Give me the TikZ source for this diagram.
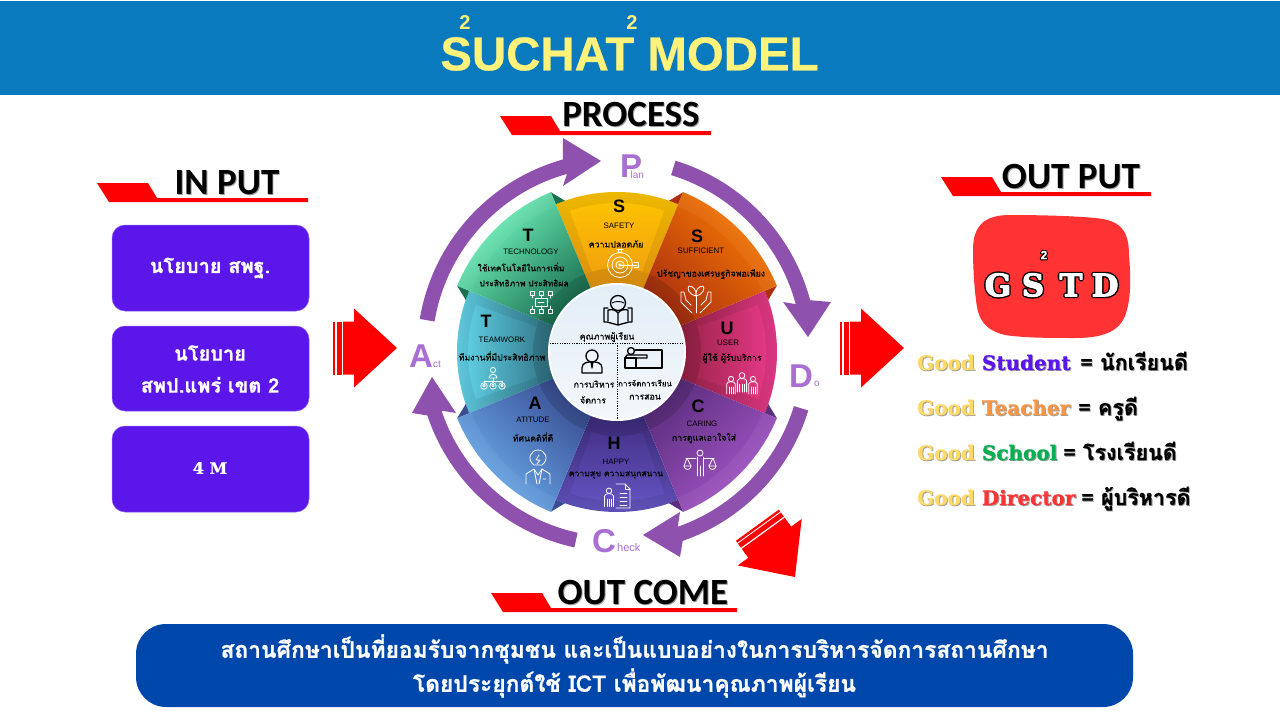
\documentclass[tikz,border=0pt]{standalone}
\usepackage{fontspec}
\setmainfont{Liberation Sans}
\newfontfamily\thf[Script=Thai,FakeBold=0.15]{Loma}
\newfontfamily\thb[Script=Thai,BoldFeatures={FakeBold=0.8}]{Loma}
\newfontfamily\crl{Carlito}
\newfontfamily\srf[BoldFeatures={FakeBold=0.6}]{DejaVu Serif}
\newfontfamily\srg{DejaVu Serif}
\newfontfamily\ttlf[BoldFeatures={FakeBold=0.5}]{Liberation Sans}
\usetikzlibrary{calc}
\definecolor{hdr}{HTML}{0A7ABF}
\definecolor{boxv}{HTML}{5B17E9}
\definecolor{ring}{HTML}{8E52AE}
\definecolor{lett}{HTML}{A96FD2}
\definecolor{ttl}{HTML}{FFF27A}
\definecolor{gold}{HTML}{FFD966}
\definecolor{bluebox}{HTML}{0047AB}
\definecolor{redbox}{HTML}{FF3333}
\definecolor{safeO}{HTML}{FFC800}\definecolor{safeI}{HTML}{F09A10}
\definecolor{suffO}{HTML}{FA7E00}\definecolor{suffI}{HTML}{AC3010}
\definecolor{userO}{HTML}{F03C90}\definecolor{userI}{HTML}{962244}
\definecolor{careO}{HTML}{A858CC}\definecolor{careI}{HTML}{5C2E7E}
\definecolor{happO}{HTML}{6858C8}\definecolor{happI}{HTML}{3F2D80}
\definecolor{attiO}{HTML}{6CB2F0}\definecolor{attiI}{HTML}{3A4E94}
\definecolor{teamO}{HTML}{66DCF0}\definecolor{teamI}{HTML}{2E6E80}
\definecolor{techO}{HTML}{78FCC4}\definecolor{techI}{HTML}{1A7050}
\definecolor{hubT}{HTML}{E3EEF7}\definecolor{hubB}{HTML}{F3F7FB}
\tikzset{
 redtag/.style={fill=red,draw=none},
 heading/.style={font=\crl\bfseries\fontsize{37}{37}\selectfont,text=black,inner sep=0},
 violetbox/.style={fill=boxv,draw=boxv!70!white,line width=.5pt,rounded corners=13pt},
 boxtext/.style={font=\thb\bfseries\fontsize{20}{32}\selectfont,text=white,align=center,inner sep=0},
 ringarrow/.style={fill=ring,draw=none},
 letterB/.style={font=\bfseries\fontsize{33}{33}\selectfont,text=lett,inner sep=0},
 letterS/.style={font=\fontsize{10}{10}\selectfont,text=lett,inner sep=0},
 bigl/.style={font=\bfseries\fontsize{18}{18}\selectfont,text=black,inner sep=0},
 engl/.style={font=\fontsize{7.9}{7.9}\selectfont,text=black,inner sep=0},
 thl/.style={font=\thf\fontsize{8.8}{8.8}\selectfont,text=black,inner sep=0},
 icon/.style={draw=white,line width=.8pt,fill=none,line join=round,line cap=round},
 iconb/.style={draw=black,line width=1.3pt,fill=none,line join=round,line cap=round},
 goodl/.style={anchor=base west,inner sep=0,font=\srf\bfseries\fontsize{20}{21}\selectfont},
 goodt/.style={anchor=base west,inner sep=0,font=\thb\bfseries\fontsize{21.5}{24}\selectfont},
}
\newcommand\sector[5]{%
 \pgfmathsetmacro\midang{(#1+#2)/2-90}%
 \shade[top color=#4,bottom color=#5,shading angle=\midang]
  (#1:67) -- (#1:#3) arc[start angle=#1,end angle=#2,radius=#3] -- (#2:67) arc[start angle=#2,end angle=#1,radius=67] -- cycle;
 \fill[black,opacity=.12] (#1:67) arc[start angle=#1,end angle=#2,radius=67] -- (#2:84) arc[start angle=#2,end angle=#1,radius=84] -- cycle;
}
\newcommand\stripes[3]{%
 \fill[black,opacity=.07,even odd rule]
  (#1:84) -- (#1:#3) arc[start angle=#1,end angle=#2,radius=#3] -- (#2:84) arc[start angle=#2,end angle=#1,radius=84] -- cycle
  ({#1+5}:84) -- ({#1+4}:149) arc[start angle={#1+4},end angle={#2-4},radius=149] -- ({#2-5}:84) arc[start angle={#2-5},end angle={#1+5},radius=84] -- cycle;
}
\newcommand\widerim[2]{%
 \fill[white,opacity=.05] (#1:158) arc[start angle=#1,end angle=#2,radius=158] -- (#2:173) arc[start angle=#2,end angle=#1,radius=173] -- cycle;
}
\newcommand\fold[3]{\fill[#3] (#1:173) -- (#1:160) -- ({#1+#2}:160) -- cycle;}
\newcommand\person[3]{%
 \begin{scope}[shift={(#1,#2)},scale=#3]
 \draw[icon] (0,5) circle (2.6);
 \draw[icon] (-4.2,-10) -- (-4.2,0) .. controls (-4.2,2) and (-2,2.2) .. (0,2.2) .. controls (2,2.2) and (4.2,2) .. (4.2,0) -- (4.2,-10);
 \draw[icon] (-2,-10) -- (-2,-3) (2,-10) -- (2,-3) (0,-10) -- (0,-3);
 \end{scope}}
\newcommand\redarrow{%
 \fill[red] (0,0) -- (-43,39.5) -- (-43,26.5) -- (-54,26.5) -- (-54,-26.5) -- (-43,-26.5) -- (-43,-39.5) -- cycle;
 \fill[red] (-60.5,26.5) rectangle (-55.5,-26.5);
 \fill[red] (-64,26.5) rectangle (-61.7,-26.5);
}
% outlined letters: a wide black stroke, then a bold white glyph on it
\newcommand\outl[3]{\leavevmode\rlap{\special{pdf:code q 2 Tr #1 w 1 j 0 0 0 RG 0 0 0 rg}#3\special{pdf:code Q}}\special{pdf:code q 2 Tr #2 w 1 j 1 1 1 RG 1 1 1 rg}#3\special{pdf:code Q}}
\newcommand\shd[2]{\leavevmode\rlap{\kern.9pt\raisebox{-.9pt}{\textcolor{black!38}{#1}}}#2}
\begin{document}
\begin{tikzpicture}[x=1pt,y=1pt]
\useasboundingbox (0,0) rectangle (1280,-720);
\fill[white] (0,0) rectangle (1280,-720);
\fill[hdr] (0,-1) rectangle (1280,-95);
\node[font=\ttlf\bfseries\fontsize{47.4}{47.4}\selectfont,text=ttl,inner sep=0] (title) at (629.5,-54) {SUCHAT MODEL};
\node[font=\bfseries\fontsize{20}{20}\selectfont,text=ttl,inner sep=0] (sq1) at (465,-23) {2};
\node[font=\bfseries\fontsize{20}{20}\selectfont,text=ttl,inner sep=0] (sq2) at (632,-23) {2};

% headings
\fill[redtag] (97,-183) -- (148,-183) -- (157,-198) -- (308,-198) -- (308,-202) -- (109,-202) -- cycle;
\fill[redtag] (941,-177) -- (992,-177) -- (1001,-192) -- (1151,-192) -- (1151,-196) -- (953,-196) -- cycle;
\fill[redtag] (500,-116) -- (551,-116) -- (560,-131) -- (711,-131) -- (711,-135) -- (512,-135) -- cycle;
\fill[redtag] (491,-593) -- (542,-593) -- (551,-608) -- (737,-608) -- (737,-612) -- (503,-612) -- cycle;
\node[heading] (hin) at (227,-183) {\shd{IN PUT}{IN PUT}};
\node[heading] (hout) at (1071,-177) {\shd{OUT PUT}{OUT PUT}};
\node[heading] (hproc) at (631,-115) {\shd{PROCESS}{PROCESS}};
\node[heading] (hcome) at (643,-593) {\shd{OUT COME}{OUT COME}};

% input boxes
\path[violetbox] (112,-225) rectangle (309,-311);
\path[violetbox] (112,-326) rectangle (309,-411);
\path[violetbox] (112,-426) rectangle (309,-512);
\node[boxtext] (in1) at (210,-268) {นโยบาย สพฐ.};
\node[boxtext] (in2) at (210,-369) {นโยบาย\\สพป.แพร่ เขต 2};
\node[boxtext,font=\srf\bfseries\fontsize{16}{16}\selectfont] (in3) at (210,-468) {4 M};

% red arrows
\begin{scope}[shift={(397,-348)}]\redarrow\end{scope}
\begin{scope}[shift={(904,-348)}]\redarrow\end{scope}
\begin{scope}[shift={(795,-577)},rotate=-54]\redarrow\end{scope}

% wheel
\begin{scope}[shift={(617,-352)}]
 \fill[ringarrow] (170.5:200) arc[start angle=170.5,end angle=105.7,radius=200] -- (-54,214) -- (-16,191) -- (-54,166) -- (105.7:185) arc[start angle=105.7,end angle=170.5,radius=185] -- cycle;
 \fill[ringarrow] (73:200) arc[start angle=73,end angle=15,radius=200] -- (214,50) -- (191,15) -- (166,50) -- (15:185) arc[start angle=15,end angle=73,radius=185] -- cycle;
 \fill[ringarrow] (-17:200) arc[start angle=-17,end angle=-70.8,radius=200] -- (63,-205) -- (26,-183) -- (63,-160) -- (-70.8:185) arc[start angle=-70.8,end angle=-17,radius=185] -- cycle;
 \fill[ringarrow] (257.7:200) arc[start angle=257.7,end angle=198.5,radius=200] -- (-205,-61) -- (-185,-25) -- (-161,-61) -- (198.5:185) arc[start angle=198.5,end angle=257.7,radius=185] -- cycle;

 % narrow sectors
 \sector{67.5}{112.5}{160}{safeO}{safeI}\stripes{67.5}{112.5}{160}
 \sector{-22.5}{22.5}{160}{userO}{userI}\stripes{-22.5}{22.5}{160}
 \sector{247.5}{292.5}{160}{happO}{happI}\stripes{247.5}{292.5}{160}
 \sector{157.5}{202.5}{160}{teamO}{teamI}\stripes{157.5}{202.5}{160}
 % folds
 \fold{112.5}{-3.5}{techI}\fold{157.5}{3.5}{techI}
 \fold{67.5}{3.5}{suffI}\fold{22.5}{-3.5}{suffI}
 \fold{-22.5}{3.5}{careI}\fold{-67.5}{-3.5}{careI}
 \fold{202.5}{-3.5}{attiI}\fold{247.5}{3.5}{attiI}
 % wide sectors
 \sector{112.5}{157.5}{173}{techO}{techI}\widerim{112.5}{157.5}
 \sector{22.5}{67.5}{173}{suffO}{suffI}\widerim{22.5}{67.5}
 \sector{-67.5}{-22.5}{173}{careO}{careI}\widerim{-67.5}{-22.5}
 \sector{202.5}{247.5}{173}{attiO}{attiI}\widerim{202.5}{247.5}
 % centre
 \fill[white] (0,0) circle (69);
 \shade[top color=hubT,bottom color=hubB] (0,0) circle (67);
 \draw[black,line width=.8pt,dash pattern=on 1.2pt off 1.2pt] (-67,9) -- (67,9);
 \draw[black,line width=.8pt,dash pattern=on 1.2pt off 1.2pt] (0,9) -- (0,-67);
\end{scope}

% sector texts
\node[bigl] (s1) at (619,-206) {S};
\node[engl] (s1e) at (619,-226) {SAFETY};
\node[thl] (s1t) at (616,-244) {ความปลอดภัย};
\node[bigl] (s2) at (697,-236) {S};
\node[engl] (s2e) at (701,-251) {SUFFICIENT};
\node[thl,font=\thf\fontsize{8.8}{8.8}\selectfont] (s2t) at (711,-274) {ปรัชญาของเศรษฐกิจพอเพียง};
\node[bigl] (u) at (727,-328) {U};
\node[engl] (ue) at (728,-343) {USER};
\node[thl] (ut) at (732,-358) {ผู้ใช้ ผู้รับบริการ};
\node[bigl] (c) at (698,-406) {C};
\node[engl] (ce) at (702,-424) {CARING};
\node[thl] (ct) at (704,-438) {การดูแลเอาใจใส่};
\node[bigl] (h) at (614,-443) {H};
\node[engl] (he) at (616,-462) {HAPPY};
\node[thl,font=\thf\fontsize{8.6}{8.6}\selectfont] (ht) at (616,-475) {ความสุข ความสนุกสนาน};
\node[bigl] (a) at (535,-403) {A};
\node[engl] (ae) at (533,-420) {ATITUDE};
\node[thl] (at) at (533,-437) {ทัศนคติที่ดี};
\node[bigl] (t1) at (486,-321) {T};
\node[engl] (t1e) at (502,-340) {TEAMWORK};
\node[thl] (t1t) at (502,-356) {ทีมงานที่มีประสิทธิภาพ};
\node[bigl] (t2) at (528,-235) {T};
\node[engl] (t2e) at (531,-252) {TECHNOLOGY};
\node[thl,font=\thf\fontsize{8.4}{8.4}\selectfont] (t2t) at (521,-267) {ใช้เทคโนโลยีในการเพิ่ม};
\node[thl,font=\thf\fontsize{8.4}{8.4}\selectfont] (t2u) at (524,-283) {ประสิทธิภาพ ประสิทธิผล};
% centre texts
\node[thl] (m0) at (607,-337) {คุณภาพผู้เรียน};
\node[thl] (m1) at (594,-384) {การบริหาร};
\node[thl] (m2) at (593,-400) {จัดการ};
\node[thl,font=\thf\fontsize{7.9}{7.9}\selectfont] (m3) at (645,-383) {การจัดการเรียน};
\node[thl] (m4) at (645,-397) {การสอน};

% PDCA
\node[letterB,anchor=base] (P) at (631,-177) {P};
\node[letterS,anchor=base west] (Ps) at (630.5,-178) {lan};
\node[letterB,anchor=base] (Ac) at (421,-367) {A};
\node[letterS,anchor=base west] (As) at (433,-367) {ct};
\node[letterB,anchor=base] (D) at (801,-387) {D};
\node[letterS,anchor=base west] (Ds) at (814,-386) {o};
\node[letterB,anchor=base] (Ch) at (604,-552) {C};
\node[letterS,anchor=base west,font=\fontsize{11}{11}\selectfont] (Cs) at (617,-551) {heck};

% icons, white
\begin{scope}[shift={(620,-265)}]
 \draw[icon] (0,0) circle (12.5) (0,0) circle (8) (0,0) circle (4) (0,0) circle (1.2);
 \draw[icon] (0,0) -- (17,0) (14,2.5) -- (18,2.5) -- (18,-2.5) -- (14,-2.5);
 \draw[icon] (-3,15.5) -- (3,15.5) (-1.5,12.5) -- (-1.5,15.5) (1.5,12.5) -- (1.5,15.5);
\end{scope}
\begin{scope}[shift={(696,-300)}]
 \draw[icon] (0,-13) -- (0,4);
 \draw[icon] (0,4) .. controls (-8,6) and (-9,12) .. (-7,14) .. controls (-3,14) and (1,10) .. (0,4);
 \draw[icon] (0,4) .. controls (8,6) and (9,12) .. (7,14) .. controls (3,14) and (-1,10) .. (0,4);
 \draw[icon] (-4,-13) -- (-8,-9) -- (-15,-2) -- (-15,8) -- (-12,8) -- (-10,0) -- (-5,-5);
 \draw[icon] (4,-13) -- (8,-9) -- (15,-2) -- (15,8) -- (12,8) -- (10,0) -- (5,-5);
\end{scope}
\begin{scope}[shift={(541,-302)}]
 \foreach \x in {-9,0,9}{\draw[icon] (\x-2,7) rectangle (\x+2,11) (\x-2,-7) rectangle (\x+2,-11) (\x,7) -- (\x,4) (\x,-7) -- (\x,-4);}
 \draw[icon] (-6,-4) rectangle (6,4) (-3,0) -- (3,0);
\end{scope}
\begin{scope}[shift={(493,-378)}]
 \draw[icon] (0,8) circle (2.6) (-4,0) .. controls (-4,5) and (4,5) .. (4,0) -- cycle;
 \draw[icon] (0,0) -- (0,-3) (-9,-3) -- (9,-3) (-9,-3) -- (-9,-5) (9,-3) -- (9,-5) (0,-3) -- (0,-5);
 \foreach \x in {-9,0,9}{\draw[icon] (\x,-8) circle (3.2) (\x,-7.5) circle (1.2);}
\end{scope}
\person{742}{-381}{1.1}\person{731}{-384}{1}\person{753}{-384}{1}
\begin{scope}[shift={(700,-463)}]
 \draw[icon] (0,10) circle (3);
 \draw[icon] (-14,5) -- (-4,5) (4,5) -- (14,5) (-3,6) -- (-3,-13) (3,6) -- (3,-13) (0,-3) -- (0,-13);
 \draw[icon] (-13,5) -- (-16,-3) (-13,5) -- (-9,-3) (13,5) -- (9,-3) (13,5) -- (16,-3);
 \draw[icon] (-16,-3) arc[start angle=180,end angle=360,radius=3.5] -- cycle (9,-3) arc[start angle=180,end angle=360,radius=3.5] -- cycle;
\end{scope}
\begin{scope}[shift={(618,-496)}]
 \person{-9}{0}{1.05}
 \draw[icon] (-2,12) -- (7,12) -- (12,7) -- (12,-12) -- (-2,-12);
 \draw[icon] (7,12) -- (7,7) -- (12,7);
 \foreach \y in {3,-1,-5,-9}{\draw[icon] (2,\y) -- (9,\y);}
\end{scope}
\begin{scope}[shift={(538,-469)}]
 \draw[icon] (-4,4) .. controls (-12,10) and (-7,19) .. (0,19) .. controls (7,19) and (12,10) .. (4,4) -- cycle;
 \draw[icon] (1,14) -- (-2,9) -- (2,9) -- (-1,5);
 \draw[icon] (-12,-15) -- (-12,-5) -- (-4,0) -- (0,-6) -- (4,0) -- (12,-5) -- (12,-15);
 \draw[icon] (-4,0) -- (-1,-15) (4,0) -- (1,-15) (5,-10) -- (8,-10);
\end{scope}
% icons, black
\begin{scope}[shift={(618,-310)}]
 \draw[iconb] (0,7) circle (7.5);
 \draw[iconb,line width=.9pt] (-6,7) .. controls (-3,9) and (3,9) .. (6,7);
 \draw[iconb] (0,-15) -- (-11,-12) -- (-14,-12) -- (-14,2) -- (-10,2) (0,-15) -- (11,-12) -- (14,-12) -- (14,2) -- (10,2);
 \draw[iconb] (-10,-11) -- (-10,0) .. controls (-6,1) and (-2,0) .. (0,-3) .. controls (2,0) and (6,1) .. (10,0) -- (10,-11) (0,-3) -- (0,-15);
\end{scope}
\begin{scope}[shift={(592,-362)}]
 \draw[iconb] (0,6) circle (6);
 \draw[iconb] (-10,-11) -- (10,-11) -- (10,-6) .. controls (10,-1) and (5,0) .. (2,0) -- (-2,0) .. controls (-5,0) and (-10,-1) .. (-10,-6) -- cycle;
 \fill[black] (-1.5,0) -- (1.5,0) -- (0.8,-5) -- (0,-7) -- (-0.8,-5) -- cycle;
\end{scope}
\begin{scope}[shift={(643,-358)}]
 \draw[iconb] (-8,8) -- (19,8) -- (19,-10) -- (-18,-10) -- (-18,0) -- (-7,0) -- (-7,-10);
 \draw[iconb] (-18,0) -- (-16,3) -- (4,3) -- (4,0) -- (-7,0);
 \draw[iconb] (-12,7) circle (3.5);
\end{scope}

% output
\fill[redbox] (973,-250) .. controls (973,-225) and (985,-215) .. (1010,-215)
 .. controls (1040,-215) and (1075,-216) .. (1095,-218) .. controls (1120,-220) and (1129,-230) .. (1129,-255)
 .. controls (1131,-280) and (1131,-300) .. (1125,-316) .. controls (1118,-333) and (1100,-338) .. (1075,-338)
 .. controls (1050,-338) and (1025,-338) .. (1005,-335) .. controls (985,-330) and (978,-320) .. (976,-300)
 .. controls (974,-285) and (973,-265) .. (973,-250) -- cycle;
\node[font=\bfseries\fontsize{12}{12}\selectfont,inner sep=0] (gsq) at (1044,-255) {\outl{2.2}{.1}{2}};
\node[font=\srg\bfseries\fontsize{31}{31}\selectfont,inner sep=0] (gg) at (998,-285) {\outl{3.8}{1}{G}};
\node[font=\srg\bfseries\fontsize{31}{31}\selectfont,inner sep=0] (gs) at (1033,-285) {\outl{3.8}{1}{S}};
\node[font=\srg\bfseries\fontsize{31}{31}\selectfont,inner sep=0] (gt) at (1071,-285) {\outl{3.8}{1}{T}};
\node[font=\srg\bfseries\fontsize{31}{31}\selectfont,inner sep=0] (gd) at (1105,-285) {\outl{3.8}{1}{D}};

\node[goodl] (g1) at (917,-370) {\shd{Good Student}{\textcolor{gold}{Good} \textcolor{boxv}{Student}}};
\node[goodl] (g2) at (917,-415) {\shd{Good Teacher}{\textcolor{gold}{Good} \textcolor[HTML]{F79646}{Teacher}}};
\node[goodl] (g3) at (917,-460) {\shd{Good School}{\textcolor{gold}{Good} \textcolor[HTML]{00B050}{School}}};
\node[goodl] (g4) at (917,-505) {\shd{Good Director}{\textcolor{gold}{Good} \textcolor[HTML]{FF3333}{Director}}};
\node[goodt] (e1) at (1080,-370) {\shd{= นักเรียนดี}{= นักเรียนดี}};
\node[goodt] (e2) at (1078,-415) {\shd{= ครูดี}{= ครูดี}};
\node[goodt] (e3) at (1063,-460) {\shd{= โรงเรียนดี}{= โรงเรียนดี}};
\node[goodt] (e4) at (1081,-505) {\shd{= ผู้บริหารดี}{= ผู้บริหารดี}};

% outcome
\fill[bluebox,rounded corners=30pt] (136,-624) rectangle (1133,-707);
\node[font=\thb\bfseries\fontsize{22.8}{34}\selectfont,text=white,align=center,inner sep=0] (outcome) at (634.5,-666) {สถานศึกษาเป็นที่ยอมรับจากชุมชน และเป็นแบบอย่างในการบริหารจัดการสถานศึกษา\\โดยประยุกต์ใช้ ICT เพื่อพัฒนาคุณภาพผู้เรียน};
\end{tikzpicture}
\end{document}
